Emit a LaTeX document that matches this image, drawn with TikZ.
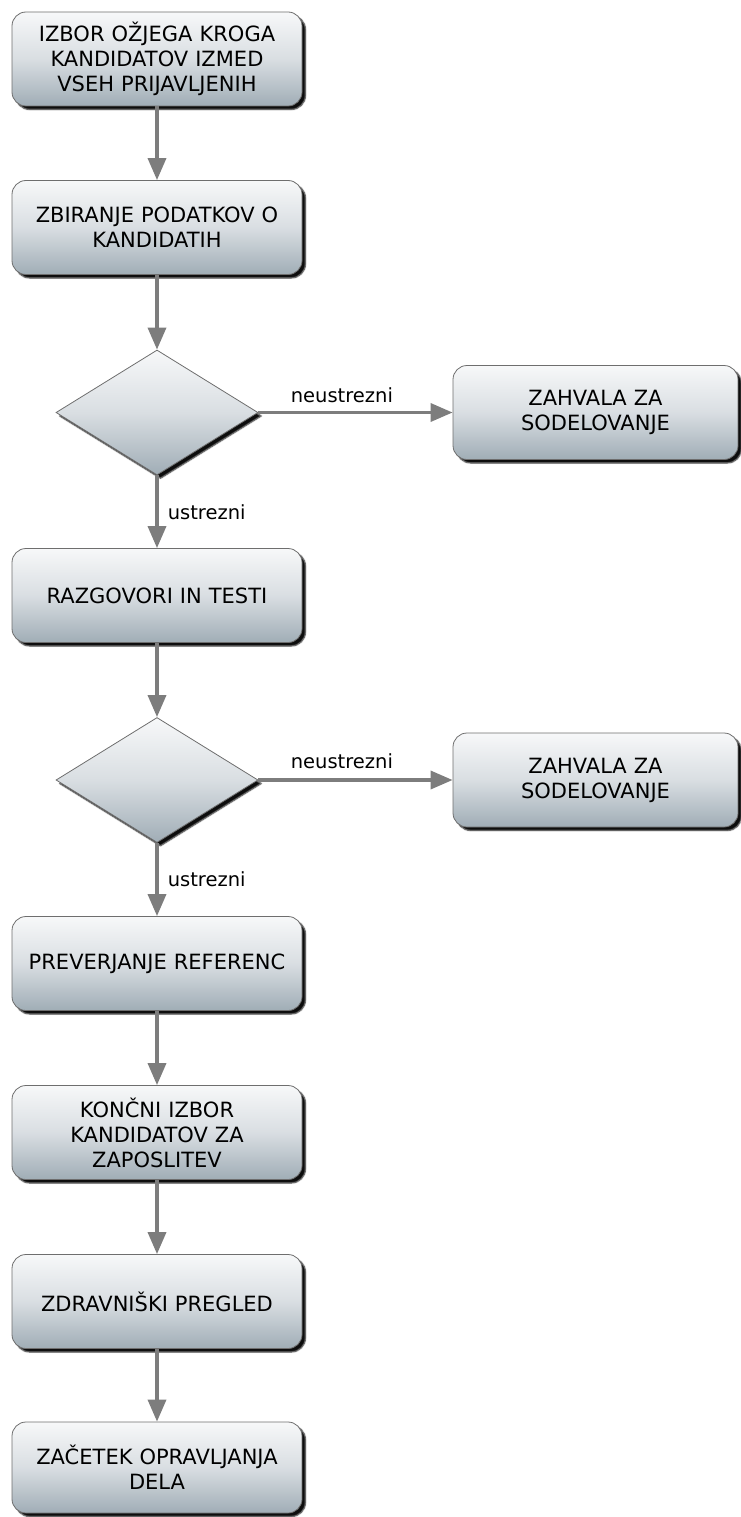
\documentclass[tikz,border=0pt]{standalone}
\usepackage{fontspec}
\setmainfont{DejaVu Sans}
\usetikzlibrary{shapes.geometric, arrows.meta, shadows.blur}

\definecolor{edgegray}{HTML}{6E6E6E}
\definecolor{boxtop}{HTML}{F7F8F9}
\definecolor{boxmid}{HTML}{D9DEE2}
\definecolor{boxbot}{HTML}{A0ADB6}
\definecolor{conn}{HTML}{7D7D7D}

\begin{document}
\begin{tikzpicture}[x=1pt, y=-1pt,
  softshadow/.style={blur shadow={shadow xshift=3.5pt, shadow yshift=-3.5pt,
      shadow blur radius=1.2pt, shadow opacity=95}},
  stepbox/.style={draw=edgegray, line width=0.8pt, rounded corners=14pt,
      minimum width=290pt, minimum height=94pt, text width=276pt, align=center,
      top color=boxtop, bottom color=boxbot, middle color=boxmid,
      font=\fontsize{21}{25}\selectfont, softshadow},
  sidebox/.style={stepbox, minimum width=285pt, text width=270pt},
  decision/.style={diamond, draw=edgegray, line width=0.8pt, inner sep=0pt,
      minimum width=202pt, minimum height=125pt,
      top color=boxtop, bottom color=boxbot, middle color=boxmid, softshadow},
  flow/.style={draw=conn, line width=3.5pt,
      -{Triangle[width=18pt, length=22pt]}},
  lab/.style={inner sep=0pt, font=\fontsize{19.5}{23}\selectfont}
]
\useasboundingbox (0,0) rectangle (741,1517);

% main column
\node[stepbox] (b1) at (157,59)   {IZBOR OŽJEGA KROGA\\KANDIDATOV IZMED\\VSEH PRIJAVLJENIH};
\node[stepbox] (b2) at (157,227.5) {ZBIRANJE PODATKOV O\\KANDIDATIH};
\node[decision] (d1) at (157,412.5) {};
\node[stepbox] (b3) at (157,595.5) {RAZGOVORI IN TESTI};
\node[decision] (d2) at (157,780) {};
\node[stepbox] (b4) at (157,963.5) {PREVERJANJE REFERENC};
\node[stepbox] (b5) at (157,1132.5) {KONČNI IZBOR\\KANDIDATOV ZA\\ZAPOSLITEV};
\node[stepbox] (b6) at (157,1301.5) {ZDRAVNIŠKI PREGLED};
\node[stepbox, minimum height=91pt] (b7) at (157,1467.5) {ZAČETEK OPRAVLJANJA\\DELA};

% rejection branch
\node[sidebox] (z1) at (595.5,412.5) {ZAHVALA ZA\\SODELOVANJE};
\node[sidebox] (z2) at (595.5,780) {ZAHVALA ZA\\SODELOVANJE};

% connectors
\draw[flow] (b1.south) -- (b2.north);
\draw[flow] (b2.south) -- (d1.north);
\draw[flow] (d1.east) -- node[lab, anchor=base, pos=0.43, yshift=10pt] {neustrezni} (z1.west);
\draw[flow] (d1.south) -- node[lab, anchor=base west, pos=0.6, xshift=9pt] {ustrezni} (b3.north);
\draw[flow] (b3.south) -- (d2.north);
\draw[flow] (d2.east) -- node[lab, anchor=base, pos=0.43, yshift=12pt] {neustrezni} (z2.west);
\draw[flow] (d2.south) -- node[lab, anchor=base west, pos=0.6, xshift=9pt] {ustrezni} (b4.north);
\draw[flow] (b4.south) -- (b5.north);
\draw[flow] (b5.south) -- (b6.north);
\draw[flow] (b6.south) -- (b7.north);
\end{tikzpicture}
\end{document}
